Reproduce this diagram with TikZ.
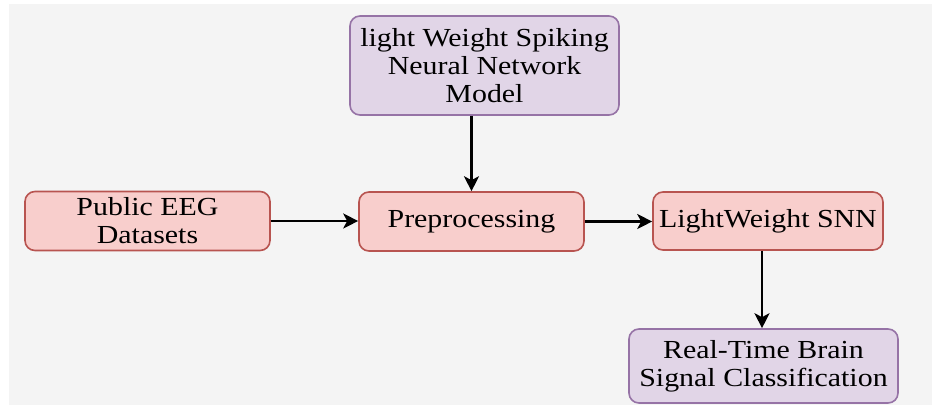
\documentclass[tikz,border=0pt]{standalone}
\usepackage{fontspec}
\setmainfont{Liberation Serif}[FakeStretch=1.15]
\usetikzlibrary{calc,arrows.meta,positioning,backgrounds}
\definecolor{redfill}{HTML}{F8CECC}
\definecolor{redline}{HTML}{B85450}
\definecolor{purplefill}{HTML}{E1D5E7}
\definecolor{purpleline}{HTML}{9673A6}
\definecolor{paper}{HTML}{F4F4F4}

\begin{document}
\begin{tikzpicture}[x=1pt,y=-1pt,
 box/.style={draw, line width=1.6pt, rounded corners=10pt, inner sep=0pt,
    align=center, font=\fontsize{26}{28}\selectfont},
 redbox/.style={box, draw=redline, fill=redfill},
 purplebox/.style={box, draw=purpleline, fill=purplefill},
 arr/.style={line width=2.2pt, -{Stealth[length=15pt,width=15pt,inset=4pt]}}]

    \useasboundingbox (0,0) rectangle (932,405);
    \fill[paper] (9,4) rectangle (932,405);

    \node[purplebox, minimum width=269, minimum height=99] (model) at (484.5,65.5)
	    {light Weight Spiking\\Neural Network\\Model};
    \node[redbox, minimum width=245, minimum height=59] (eeg) at (147.5,221)
	    {Public EEG\\Datasets};
    \node[redbox, minimum width=225, minimum height=59] (prep) at (471.5,221.5)
	    {Preprocessing};
    \node[redbox, minimum width=230, minimum height=58] (snn) at (768,221)
	    {LightWeight SNN};
    \node[purplebox, minimum width=269, minimum height=74] (out) at (763.5,366)
	    {Real-Time Brain\\Signal Classification};

	\draw[arr] (model.south -| prep.north) -- (prep.north);
	\draw[arr] (eeg.east) -- (eeg.east -| prep.west);
	\draw[arr] (prep.east) -- (prep.east -| snn.west);
	\draw[arr] ($(snn.south)+(-6,0)$) -- ($(out.north)+(-1.5,0)$);

\end{tikzpicture}
\end{document}
